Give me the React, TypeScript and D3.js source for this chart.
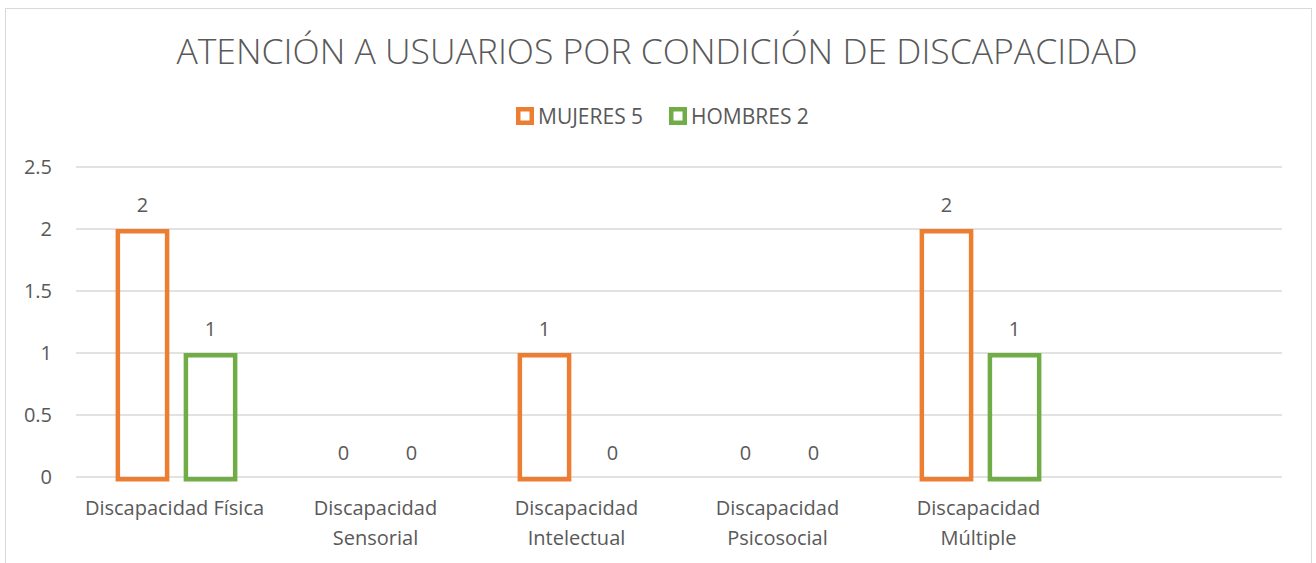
import React from "react";
import * as d3 from "d3";

const TITLE = "ATENCIÓN A USUARIOS POR CONDICIÓN DE DISCAPACIDAD";
const categories = [
  "Discapacidad Física",
  "Discapacidad Sensorial",
  "Discapacidad Intelectual",
  "Discapacidad Psicosocial",
  "Discapacidad Múltiple",
  "",
];
const seriesNames = ["MUJERES 5", "HOMBRES 2"];
const seriesColors = ["#ED7D31", "#70AD47"];
const mujeres: (number | null)[] = [2, 0, 1, 0, 2, null];
const hombres: (number | null)[] = [1, 0, 0, 0, 1, null];
const yTicks = [0, 0.5, 1, 1.5, 2, 2.5];

const W = 1316;
const H = 563;
const FONT = "'Open Sans', 'Noto Sans', sans-serif";
const TEXT = "#595959";
const STROKE = 4.5;

function wrap(label: string): string[] {
  if (label.length <= 20) return [label];
  const i = label.lastIndexOf(" ");
  return [label.slice(0, i), label.slice(i + 1)];
}

export default function App() {
  const x = d3.scaleBand<string>().domain(categories.map((c, i) => i + ":" + c)).range([76, 1282]).padding(0);
  const y = d3.scaleLinear().domain([0, 2.5]).range([477, 167]);
  const step = x.bandwidth();
  const xs = d3
    .scaleBand<string>()
    .domain(["0", "1"])
    .range([step * 0.197, step * 0.803])
    .paddingInner(0.21)
    .paddingOuter(0);
  const series = [mujeres, hombres];

  return (
    <svg width={W} height={H} style={{ position: "absolute", left: 0, top: 0, display: "block" }} fontFamily={FONT}>
      <rect x={5.5} y={8.5} width={1306} height={580} fill="#fff" stroke="#D9D9D9" strokeWidth={1} />
      <text x={657} y={64} textAnchor="middle" fontSize={35.5} fill={TEXT} fontWeight={300}>
        {TITLE}
      </text>
      {/* legend */}
      {seriesNames.map((n, i) => {
        const lx = i === 0 ? 516 : 669;
        return (
          <g key={n}>
            <rect x={lx + STROKE / 2} y={107 + STROKE / 2} width={18 - STROKE} height={18 - STROKE} fill="#fff" stroke={seriesColors[i]} strokeWidth={STROKE} />
            <text x={lx + 22} y={116} dy="0.36em" fontSize={21} fill={TEXT}>
              {n}
            </text>
          </g>
        );
      })}
      {/* gridlines */}
      {yTicks.map((t) => (
        <g key={t}>
          <line x1={76} x2={1282} y1={y(t)} y2={y(t)} stroke="#D9D9D9" strokeWidth={1.5} />
          <text x={52} y={y(t)} dy="0.36em" textAnchor="end" fontSize={20} fill={TEXT}>
            {t}
          </text>
        </g>
      ))}
      {/* bars */}
      {categories.map((c, ci) => {
        const x0 = x(ci + ":" + c)!;
        return (
          <g key={ci}>
            {series.map((s, si) => {
              const v = s[ci];
              if (v === null || v === undefined) return null;
              const bx = x0 + xs(String(si))!;
              const bw = xs.bandwidth();
              const yt = y(v);
              const y0 = y(0);
              return (
                <g key={si}>
                  {v > 0 && (
                    <rect
                      x={bx + STROKE / 2}
                      y={yt + STROKE / 2}
                      width={bw - STROKE}
                      height={y0 - yt}
                      fill="none"
                      stroke={seriesColors[si]}
                      strokeWidth={STROKE}
                    />
                  )}
                  <text x={bx + bw / 2} y={yt - 17} textAnchor="middle" fontSize={20} fill={TEXT}>
                    {v}
                  </text>
                </g>
              );
            })}
            {wrap(c).map((line, li) => (
              <text key={li} x={x0 + step / 2 - 2} y={515 + li * 30} textAnchor="middle" fontSize={20} fill={TEXT}>
                {line}
              </text>
            ))}
          </g>
        );
      })}
    </svg>
  );
}
